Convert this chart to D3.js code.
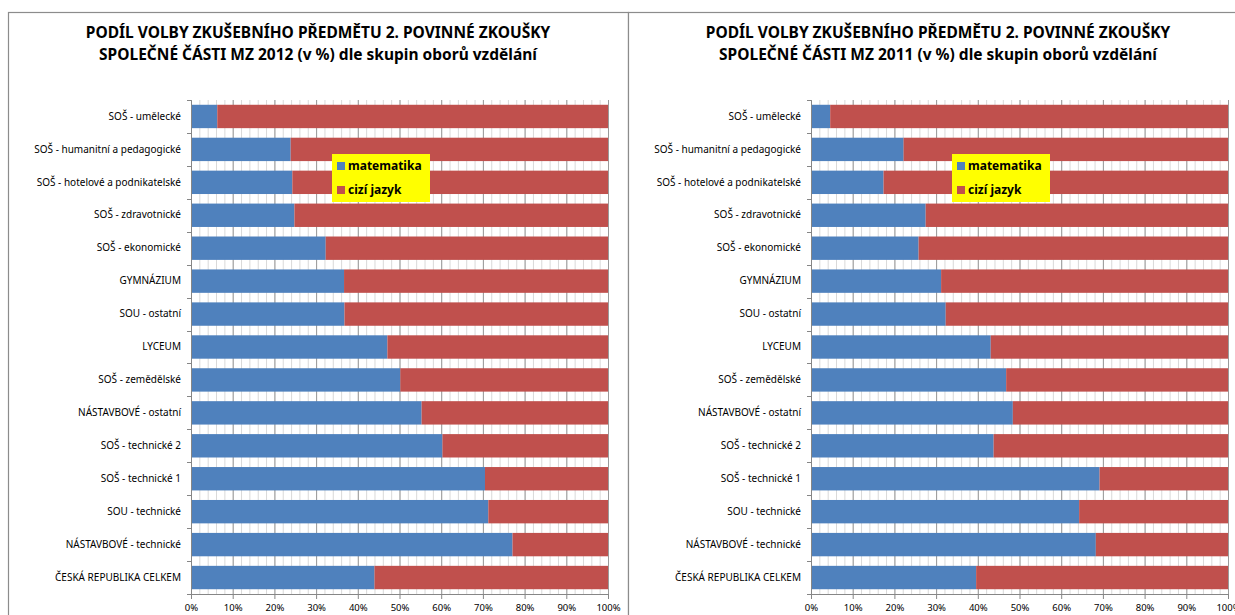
<html lang="cs">
<head>
<meta charset="utf-8">
<title>Podíl volby zkušebního předmětu</title>
<script src="https://d3js.org/d3.v7.min.js"></script>
<style>
  body { margin: 0; background: #fff; }
  text { font-family: "Noto Sans", "Open Sans", sans-serif; fill: #000; }
</style>
</head>
<body>
<div id="chart"></div>
<script>
// categories, top to bottom
var categories = [
  "SOŠ - umělecké",
  "SOŠ - humanitní a pedagogické",
  "SOŠ - hotelové a podnikatelské",
  "SOŠ - zdravotnické",
  "SOŠ - ekonomické",
  "GYMNÁZIUM",
  "SOU - ostatní",
  "LYCEUM",
  "SOŠ - zemědělské",
  "NÁSTAVBOVÉ - ostatní ",
  "SOŠ - technické 2",
  "SOŠ - technické 1",
  "SOU - technické",
  "NÁSTAVBOVÉ - technické",
  "ČESKÁ REPUBLIKA CELKEM"
];

// share of mathematics (%), foreign language = the rest
var math2012 = [6.3, 23.9, 24.3, 24.8, 32.3, 36.7, 36.8, 47.1, 50.2, 55.3, 60.3, 70.5, 71.3, 77.1, 44.0];
var math2011 = [4.6, 22.2, 17.4, 27.5, 25.8, 31.2, 32.3, 43.1, 46.8, 48.4, 43.8, 69.2, 64.3, 68.3, 39.6];

var seriesNames = ["matematika", "cizí jazyk"];
var seriesColors = ["#4F81BD", "#C0504D"];
var xTicks = [0, 10, 20, 30, 40, 50, 60, 70, 80, 90, 100];
var minorTicks = d3.range(0, 101, 2);

var titles2012 = ["PODÍL VOLBY ZKUŠEBNÍHO PŘEDMĚTU 2. POVINNÉ ZKOUŠKY",
                  "SPOLEČNÉ ČÁSTI MZ 2012 (v %) dle skupin oborů vzdělání"];
var titles2011 = ["PODÍL VOLBY ZKUŠEBNÍHO PŘEDMĚTU 2. POVINNÉ ZKOUŠKY",
                  "SPOLEČNÉ ČÁSTI MZ 2011 (v %) dle skupin oborů vzdělání"];

var W = 1235, H = 615;
var svg = d3.select("#chart").append("svg")
  .attr("width", W).attr("height", H);

var panelW = 621;
var margin = {left: 183, top: 100, right: 20};
var plotW = 417, plotH = 494;

function drawPanel(px, titleLines, mathVals) {
  var g = svg.append("g").attr("transform", "translate(" + px + ",12)");

  // panel frame
  g.append("rect")
    .attr("x", 0.5).attr("y", 0.5)
    .attr("width", panelW - 1).attr("height", H)
    .attr("fill", "#fff")
    .attr("stroke", "#8c8c8c")
    .attr("stroke-width", 1.2);

  // title
  g.selectAll(".title").data(titleLines).enter()
    .append("text")
    .attr("x", 310)
    .attr("y", function(d, i) { return 26 + i * 22; })
    .attr("text-anchor", "middle")
    .attr("font-weight", "bold")
    .attr("font-size", "15.5px")
    .text(function(d) { return d; });

  var plot = g.append("g")
    .attr("transform", "translate(" + margin.left + "," + (margin.top - 12) + ")");

  var x = d3.scaleLinear().domain([0, 100]).range([0, plotW]);
  var y = d3.scaleBand().domain(categories).range([0, plotH]).paddingInner(0.29).paddingOuter(0.145);

  // gridlines (minor then major)
  plot.selectAll(".minor").data(minorTicks).enter()
    .append("line")
    .attr("x1", function(d) { return x(d) + 0.5; })
    .attr("x2", function(d) { return x(d) + 0.5; })
    .attr("y1", 0).attr("y2", plotH)
    .attr("stroke", "#d9d9d9").attr("stroke-width", 1);
  plot.selectAll(".major").data(xTicks).enter()
    .append("line")
    .attr("x1", function(d) { return x(d) + 0.5; })
    .attr("x2", function(d) { return x(d) + 0.5; })
    .attr("y1", 0).attr("y2", plotH)
    .attr("stroke", "#9a9a9a").attr("stroke-width", 1);

  // stacked bars
  var rows = categories.map(function(c, i) {
    return {cat: c, m: mathVals[i], f: 100 - mathVals[i]};
  });
  var stack = d3.stack().keys(["m", "f"])(rows);
  plot.selectAll(".series").data(stack).enter()
    .append("g")
    .attr("fill", function(d, i) { return seriesColors[i]; })
    .selectAll("rect").data(function(d) { return d; }).enter()
    .append("rect")
    .attr("x", function(d) { return x(d[0]); })
    .attr("y", function(d) { return y(d.data.cat); })
    .attr("width", function(d) { return x(d[1]) - x(d[0]); })
    .attr("height", y.bandwidth());

  // x axis
  var xAxis = plot.append("g")
    .attr("transform", "translate(0," + plotH + ")")
    .call(d3.axisBottom(x).tickValues(xTicks).tickSize(5).tickPadding(5)
      .tickFormat(function(d) { return d + "%"; }));
  xAxis.select(".domain").attr("stroke", "#868686");
  xAxis.selectAll(".tick line").attr("stroke", "#868686");
  xAxis.selectAll("text").attr("font-size", "9.5px");

  // y axis: labels
  var yAxis = plot.append("g")
    .call(d3.axisLeft(y).tickSize(0).tickPadding(10));
  yAxis.select(".domain").attr("stroke", "#868686");
  yAxis.selectAll("text").attr("font-size", "10px");

  // y axis: tick marks on category boundaries
  var step = y.step();
  plot.selectAll(".ytick").data(d3.range(categories.length + 1)).enter()
    .append("line")
    .attr("x1", -4).attr("x2", 0)
    .attr("y1", function(i) { return Math.round(i * step) + 0.5; })
    .attr("y2", function(i) { return Math.round(i * step) + 0.5; })
    .attr("stroke", "#868686");

  // legend
  var lg = g.append("g").attr("transform", "translate(" + (margin.left + 141) + ",142)");
  lg.append("rect").attr("width", 98).attr("height", 48).attr("fill", "#ffff00");
  seriesNames.forEach(function(name, i) {
    lg.append("rect")
      .attr("x", 5).attr("y", 8 + i * 24)
      .attr("width", 8).attr("height", 8)
      .attr("fill", seriesColors[i]);
    lg.append("text")
      .attr("x", 16).attr("y", 16 + i * 24)
      .attr("font-size", "12px").attr("font-weight", "bold")
      .text(name);
  });
}

drawPanel(8, titles2012, math2012);
drawPanel(628, titles2011, math2011);
</script>
</body>
</html>
